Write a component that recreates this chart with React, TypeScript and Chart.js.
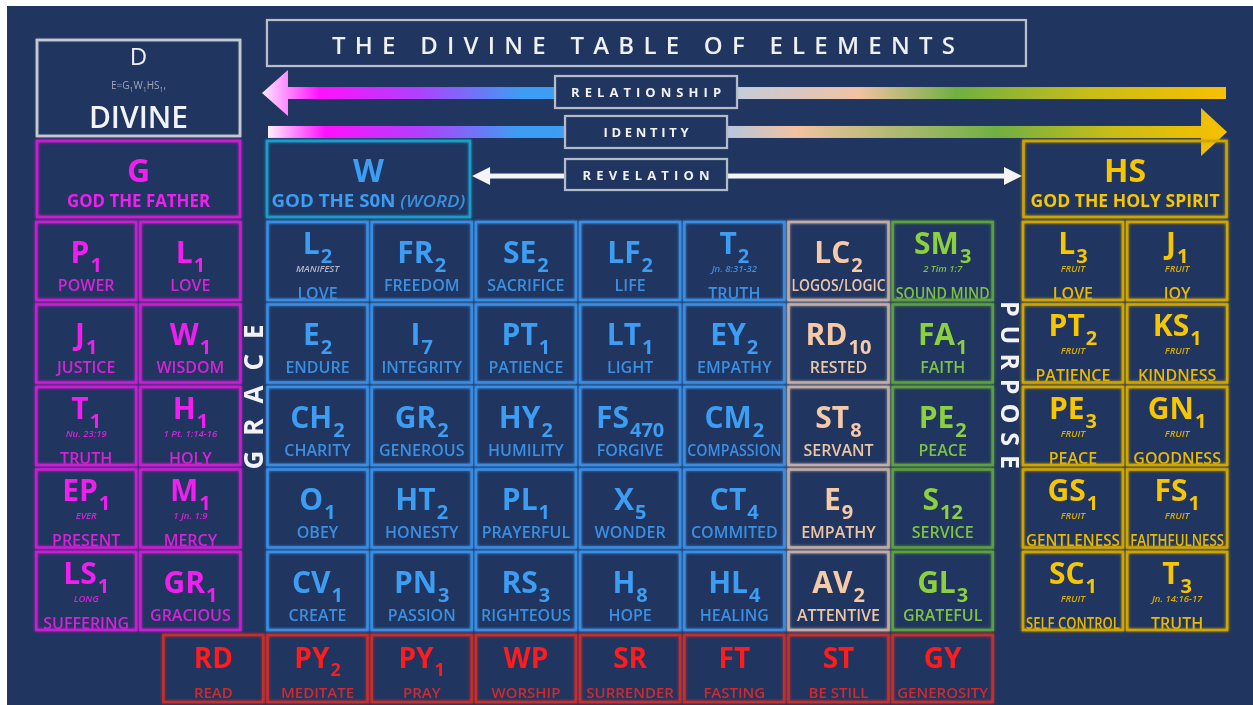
import React, { useEffect, useRef } from "react";
import { Chart, registerables } from "chart.js";

Chart.register(...registerables);

// ---------------- DATA ----------------
type Cell = [string, string, string, string]; // symbol, subscript, name, note

const TITLE = "THE DIVINE TABLE OF ELEMENTS";
const ARROW_LABELS = ["RELATIONSHIP", "IDENTITY", "REVELATION"];
const SIDE_LABELS = ["GRACE", "PURPOSE"];
const DIVINE_SYMBOL = "D";
const DIVINE_NAME = "DIVINE";
const DIVINE_FORMULA: [string, string][] = [["E=G", "1"], ["W", "1"], ["HS", "1"], [",", ""]];
const HEADER_SYMBOLS = ["G", "W", "HS"];
const HEADER_NAMES = ["GOD THE FATHER", "GOD THE S0N ", "GOD THE HOLY SPIRIT"];
const HEADER_SUFFIX = ["", "(WORD)", ""];

const gridRows = [1, 2, 3, 4, 5];
const redRows = [5.94];

const magentaCols = [-2.22, -1.22];
const magentaCells: Cell[] = [
  ["P", "1", "POWER", ""], ["L", "1", "LOVE", ""],
  ["J", "1", "JUSTICE", ""], ["W", "1", "WISDOM", ""],
  ["T", "1", "TRUTH", "Nu. 23:19"], ["H", "1", "HOLY", "1 Pt. 1:14-16"],
  ["EP", "1", "PRESENT", "EVER"], ["M", "1", "MERCY", "1 Jn. 1:9"],
  ["LS", "1", "SUFFERING", "LONG"], ["GR", "1", "GRACIOUS", ""],
];

const blueCols = [0, 1, 2, 3, 4];
const blueCells: Cell[] = [
  ["L", "2", "LOVE", "MANIFEST"], ["FR", "2", "FREEDOM", ""], ["SE", "2", "SACRIFICE", ""], ["LF", "2", "LIFE", ""], ["T", "2", "TRUTH", "Jn. 8:31-32"],
  ["E", "2", "ENDURE", ""], ["I", "7", "INTEGRITY", ""], ["PT", "1", "PATIENCE", ""], ["LT", "1", "LIGHT", ""], ["EY", "2", "EMPATHY", ""],
  ["CH", "2", "CHARITY", ""], ["GR", "2", "GENEROUS", ""], ["HY", "2", "HUMILITY", ""], ["FS", "470", "FORGIVE", ""], ["CM", "2", "COMPASSION", ""],
  ["O", "1", "OBEY", ""], ["HT", "2", "HONESTY", ""], ["PL", "1", "PRAYERFUL", ""], ["X", "5", "WONDER", ""], ["CT", "4", "COMMITED", ""],
  ["CV", "1", "CREATE", ""], ["PN", "3", "PASSION", ""], ["RS", "3", "RIGHTEOUS", ""], ["H", "8", "HOPE", ""], ["HL", "4", "HEALING", ""],
];

const tanCols = [5];
const tanCells: Cell[] = [
  ["LC", "2", "LOGOS/LOGIC", ""],
  ["RD", "10", "RESTED", ""],
  ["ST", "8", "SERVANT", ""],
  ["E", "9", "EMPATHY", ""],
  ["AV", "2", "ATTENTIVE", ""],
];

const greenCols = [6];
const greenCells: Cell[] = [
  ["SM", "3", "SOUND MIND", "2 Tim 1:7"],
  ["FA", "1", "FAITH", ""],
  ["PE", "2", "PEACE", ""],
  ["S", "12", "SERVICE", ""],
  ["GL", "3", "GRATEFUL", ""],
];

const yellowCols = [7.25, 8.25];
const yellowCells: Cell[] = [
  ["L", "3", "LOVE", "FRUIT"], ["J", "1", "JOY", "FRUIT"],
  ["PT", "2", "PATIENCE", "FRUIT"], ["KS", "1", "KINDNESS", "FRUIT"],
  ["PE", "3", "PEACE", "FRUIT"], ["GN", "1", "GOODNESS", "FRUIT"],
  ["GS", "1", "GENTLENESS", "FRUIT"], ["FS", "1", "FAITHFULNESS", "FRUIT"],
  ["SC", "1", "SELF CONTROL", "FRUIT"], ["T", "3", "TRUTH", "Jn. 14:16-17"],
];

const redCols = [-1, 0, 1, 2, 3, 4, 5, 6];
const redCells: Cell[] = [
  ["RD", "", "READ", ""], ["PY", "2", "MEDITATE", ""], ["PY", "1", "PRAY", ""], ["WP", "", "WORSHIP", ""],
  ["SR", "", "SURRENDER", ""], ["FT", "", "FASTING", ""], ["ST", "", "BE STILL", ""], ["GY", "", "GENEROSITY", ""],
];

// ---------------- LAYOUT / STYLE ----------------
const X_MIN = -2.98, X_MAX = 8.978;
const Y_MIN = -2.091, Y_MAX = 6.382;
const BG = "#203560";

type Theme = { symbol: string; name: string; note: string; border: string };
const THEMES: Record<string, Theme> = {
  magenta: { symbol: "#f01ff0", name: "#d822d8", note: "#d822d8", border: "#c81ed0" },
  blue: { symbol: "#3c9df2", name: "#3b8fe2", note: "#3b8fe2", border: "#3a8de0" },
  cyan: { symbol: "#3c9df2", name: "#3b8fe2", note: "#3b8fe2", border: "#1c9cc8" },
  tan: { symbol: "#f6caa6", name: "#ecc6a6", note: "#ecc6a6", border: "#c2ada6" },
  green: { symbol: "#8dd03e", name: "#7fc242", note: "#7fc242", border: "#5e9f3e" },
  yellow: { symbol: "#f7c600", name: "#e9b900", note: "#d8ac00", border: "#cfa500" },
  red: { symbol: "#ff1c1c", name: "#d22a2a", note: "#d22a2a", border: "#c4302e" },
};

const GROUPS = [
  { cells: magentaCells, cols: magentaCols, rows: gridRows, theme: "magenta", h: 78 },
  { cells: blueCells, cols: blueCols, rows: gridRows, theme: "blue", h: 78 },
  { cells: tanCells, cols: tanCols, rows: gridRows, theme: "tan", h: 78 },
  { cells: greenCells, cols: greenCols, rows: gridRows, theme: "green", h: 78 },
  { cells: yellowCells, cols: yellowCols, rows: gridRows, theme: "yellow", h: 78 },
  { cells: redCells, cols: redCols, rows: redRows, theme: "red", h: 67 },
];

const HEADER_POS = [
  { x: -1.718, y: 0.006, theme: "magenta", tw: 143 },
  { x: 0.489, y: 0.006, theme: "cyan", tw: 194 },
  { x: 7.75, y: 0.006, theme: "yellow", tw: 189 },
];

const FONT = '"Open Sans", "DejaVu Sans", sans-serif';

function drawSymbol(ctx: CanvasRenderingContext2D, sym: string, sub: string, cx: number, base: number, color: string, size: number) {
  const subSize = Math.round(size * 0.66);
  ctx.font = `700 ${size}px ${FONT}`;
  const w1 = ctx.measureText(sym).width;
  ctx.font = `700 ${subSize}px ${FONT}`;
  const w2 = sub ? ctx.measureText(sub).width : 0;
  const total = w1 + (sub ? w2 + 1 : 0);
  const x = cx - total / 2;
  ctx.textAlign = "left";
  ctx.textBaseline = "alphabetic";
  ctx.fillStyle = color;
  ctx.font = `700 ${size}px ${FONT}`;
  ctx.fillText(sym, x, base);
  if (sub) {
    ctx.font = `700 ${subSize}px ${FONT}`;
    ctx.fillText(sub, x + w1 + 1, base + size * 0.3);
  }
}

function spaced(ctx: CanvasRenderingContext2D, text: string, cx: number, y: number, width: number) {
  const chars = [...text];
  const ws = chars.map((c) => ctx.measureText(c).width);
  const natural = ws.reduce((a, b) => a + b, 0);
  const gap = chars.length > 1 ? (width - natural) / (chars.length - 1) : 0;
  let x = cx - width / 2;
  ctx.textAlign = "left";
  chars.forEach((c, i) => {
    ctx.fillText(c, x, y);
    x += ws[i] + gap;
  });
}

function box(ctx: CanvasRenderingContext2D, cx: number, cy: number, w: number, h: number, color: string, lw = 2.5, glow = 3) {
  ctx.save();
  ctx.strokeStyle = color;
  ctx.lineWidth = lw;
  ctx.shadowColor = color;
  ctx.shadowBlur = glow;
  ctx.strokeRect(cx - w / 2, cy - h / 2, w, h);
  ctx.restore();
}

function drawCell(ctx: CanvasRenderingContext2D, cx: number, cy: number, h: number, cell: Cell, th: Theme, isRed: boolean) {
  const [sym, sub, name, note] = cell;
  const w = 100;
  const left = cx - w / 2, top = cy - h / 2;
  ctx.save();
  ctx.beginPath();
  ctx.rect(left, top, w, h);
  ctx.clip();
  let symBase: number, nameBase: number;
  if (isRed) { symBase = top + 33; nameBase = top + 63; }
  else if (note) { symBase = top + 32; nameBase = top + 77; }
  else { symBase = top + 41; nameBase = top + 69; }
  drawSymbol(ctx, sym, sub, cx, symBase, th.symbol, isRed ? 28 : 30);
  ctx.textAlign = "center";
  if (note) {
    ctx.font = `italic 600 9.5px ${FONT}`;
    ctx.fillStyle = note === "MANIFEST" ? "#b4b6c2" : th.note;
    ctx.fillText(note, cx, top + 50, w - 10);
  }
  ctx.font = `600 ${isRed ? 15 : 16}px ${FONT}`;
  ctx.fillStyle = th.name;
  ctx.fillText(name, cx, nameBase, w - 6);
  ctx.restore();
  box(ctx, cx, cy, w, h, th.border);
}

function makeGradient(ctx: CanvasRenderingContext2D, x0: number, x1: number, stops: [number, string][]) {
  const g = ctx.createLinearGradient(x0, 0, x1, 0);
  stops.forEach(([o, c]) => g.addColorStop(o, c));
  return g;
}

const tablePlugin = {
  id: "divineTable",
  beforeDraw(chart: any) {
    const { ctx, width, height } = chart;
    ctx.save();
    ctx.fillStyle = BG;
    ctx.fillRect(0, 0, width, height);
    ctx.restore();
  },
  afterDatasetsDraw(chart: any) {
    const ctx: CanvasRenderingContext2D = chart.ctx;
    const xs = chart.scales.x, ys = chart.scales.y;
    const X = (v: number) => xs.getPixelForValue(v);
    const Y = (v: number) => ys.getPixelForValue(v);
    ctx.save();
    ctx.textBaseline = "alphabetic";

    // Title
    const tcx = X(3.157), tcy = Y(-1.642);
    box(ctx, tcx, tcy, 759, 46, "#b9c0cc", 2, 1);
    ctx.fillStyle = "#eef0f4";
    ctx.font = `600 24px ${FONT}`;
    spaced(ctx, TITLE, tcx - 3, tcy + 11, 623);

    // Relationship arrow (points left)
    {
      const tip = X(-0.533), end = X(8.719), y = Y(-1.036);
      const g = makeGradient(ctx, tip, end, [
        [0, "#ffe8ff"], [0.06, "#ff10ff"], [0.16, "#b040ff"], [0.27, "#3d9df2"], [0.31, "#3d9df2"],
        [0.5, "#c8ccd8"], [0.62, "#f2c2a2"], [0.72, "#6fb042"], [0.86, "#c9bd18"], [1, "#f8c000"],
      ]);
      ctx.fillStyle = g;
      ctx.fillRect(tip + 24, y - 6, end - tip - 24, 12);
      ctx.beginPath();
      ctx.moveTo(tip, y);
      ctx.lineTo(tip + 26, y - 23);
      ctx.lineTo(tip + 26, y + 23);
      ctx.closePath();
      ctx.fill();
    }
    // Identity arrow (points right)
    {
      const start = X(-0.475), tip = X(8.729), y = Y(-0.564);
      const g = makeGradient(ctx, start, tip, [
        [0, "#fff0ff"], [0.06, "#ff10ff"], [0.16, "#b040ff"], [0.26, "#3d9df2"], [0.3, "#3d9df2"],
        [0.48, "#b8c6dc"], [0.55, "#f2c2a2"], [0.76, "#6fb042"], [0.88, "#c9bd18"], [1, "#f8c000"],
      ]);
      ctx.fillStyle = g;
      ctx.fillRect(start, y - 6, tip - start - 24, 12);
      ctx.beginPath();
      ctx.moveTo(tip, y);
      ctx.lineTo(tip - 26, y - 24);
      ctx.lineTo(tip - 26, y + 24);
      ctx.closePath();
      ctx.fill();
    }
    // Revelation double arrow
    {
      const a = X(1.483), b = X(6.761), y = Y(-0.03);
      ctx.fillStyle = "#f4f4f6";
      ctx.fillRect(a + 16, y - 2.5, b - a - 32, 5);
      ctx.beginPath();
      ctx.moveTo(a, y); ctx.lineTo(a + 18, y - 9); ctx.lineTo(a + 18, y + 9); ctx.closePath(); ctx.fill();
      ctx.beginPath();
      ctx.moveTo(b, y); ctx.lineTo(b - 18, y - 9); ctx.lineTo(b - 18, y + 9); ctx.closePath(); ctx.fill();
    }
    // Arrow labels
    const labelBoxes = [
      { x: 3.153, y: -1.048, w: 182, h: 32, tw: 150 },
      { x: 3.153, y: -0.564, w: 162, h: 32, tw: 85 },
      { x: 3.153, y: -0.048, w: 162, h: 31, tw: 127 },
    ];
    ARROW_LABELS.forEach((lab, i) => {
      const lb = labelBoxes[i];
      const cx = X(lb.x), cy = Y(lb.y);
      ctx.fillStyle = BG;
      ctx.fillRect(cx - lb.w / 2, cy - lb.h / 2, lb.w, lb.h);
      box(ctx, cx, cy, lb.w, lb.h, "#b4bcc8", 2, 1);
      ctx.fillStyle = "#f2f2f4";
      ctx.font = `700 13px ${FONT}`;
      spaced(ctx, lab, cx, cy + 5, lb.tw);
    });

    // Side labels
    ctx.fillStyle = "#f2f2f4";
    ctx.save();
    ctx.translate(X(-0.59), Y(2.648));
    ctx.rotate(-Math.PI / 2);
    ctx.font = `700 26px ${FONT}`;
    ctx.textBaseline = "middle";
    spaced(ctx, SIDE_LABELS[0], 0, 0, 145);
    ctx.restore();
    ctx.save();
    ctx.translate(X(6.627), Y(2.503));
    ctx.rotate(Math.PI / 2);
    ctx.font = `700 25px ${FONT}`;
    ctx.textBaseline = "middle";
    spaced(ctx, SIDE_LABELS[1], 0, 0, 168);
    ctx.restore();

    // Divine box
    {
      const cx = X(-1.718), cy = Y(-1.097);
      const top = cy - 48;
      box(ctx, cx, cy, 203, 96, "#c4c8d2", 2.5, 1);
      ctx.fillStyle = "#eeeff2";
      ctx.textAlign = "center";
      ctx.font = `500 24px ${FONT}`;
      ctx.fillText(DIVINE_SYMBOL, cx, top + 25);
      ctx.fillStyle = "#a3a7b8";
      const parts = DIVINE_FORMULA;
      let tot = 0;
      parts.forEach(([t, s]) => {
        ctx.font = `500 10px ${FONT}`; tot += ctx.measureText(t).width;
        ctx.font = `500 7px ${FONT}`; tot += s ? ctx.measureText(s).width : 0;
      });
      let x = cx - tot / 2;
      ctx.textAlign = "left";
      parts.forEach(([t, s]) => {
        ctx.font = `500 10px ${FONT}`; ctx.fillText(t, x, top + 49); x += ctx.measureText(t).width;
        if (s) { ctx.font = `500 7px ${FONT}`; ctx.fillText(s, x, top + 52); x += ctx.measureText(s).width; }
      });
      ctx.fillStyle = "#f2f3f5";
      ctx.textAlign = "center";
      ctx.font = `600 30px ${FONT}`;
      ctx.fillText(DIVINE_NAME, cx, top + 88);
    }

    // Header boxes
    HEADER_SYMBOLS.forEach((sym, i) => {
      const p = HEADER_POS[i];
      const th = THEMES[p.theme];
      const cx = X(p.x), cy = Y(p.y);
      const top = cy - 38;
      box(ctx, cx, cy, 203, 76, th.border);
      ctx.fillStyle = th.symbol;
      ctx.textAlign = "center";
      ctx.font = `700 32px ${FONT}`;
      ctx.fillText(sym, cx, top + 41);
      const name = HEADER_NAMES[i], suf = HEADER_SUFFIX[i];
      ctx.font = `700 17px ${FONT}`;
      const w1 = ctx.measureText(name).width;
      ctx.font = `italic 600 17px ${FONT}`;
      const w2 = suf ? ctx.measureText(suf).width : 0;
      const tot = w1 + w2;
      const sc = p.tw / tot;
      ctx.save();
      ctx.translate(cx - p.tw / 2, top + 66);
      ctx.scale(sc, 1);
      ctx.textAlign = "left";
      ctx.fillStyle = th.symbol;
      ctx.font = `700 17px ${FONT}`;
      ctx.fillText(name, 0, 0);
      if (suf) {
        ctx.font = `italic 600 17px ${FONT}`;
        ctx.fillStyle = "#3a8fd8";
        ctx.fillText(suf, w1, 0);
      }
      ctx.restore();
    });

    // Cells
    chart.data.datasets.forEach((ds: any, di: number) => {
      const meta = chart.getDatasetMeta(di);
      const grp = GROUPS[di];
      const th = THEMES[grp.theme];
      meta.data.forEach((pt: any, j: number) => {
        drawCell(ctx, pt.x, pt.y, grp.h, grp.cells[j], th, grp.theme === "red");
      });
    });
    ctx.restore();
  },
};

export default function App() {
  const ref = useRef<HTMLCanvasElement | null>(null);
  useEffect(() => {
    if (!ref.current) return;
    const datasets = GROUPS.map((g) => ({
      label: g.theme,
      data: g.cells.map((_, i) => ({
        x: g.cols[i % g.cols.length],
        y: g.rows[Math.floor(i / g.cols.length)],
      })),
      pointRadius: 0,
      pointHoverRadius: 0,
      showLine: false,
    }));
    const chart = new Chart(ref.current, {
      type: "scatter",
      data: { datasets },
      options: {
        animation: false,
        responsive: false,
        maintainAspectRatio: false,
        events: [],
        layout: { padding: 0 },
        plugins: { legend: { display: false }, tooltip: { enabled: false } },
        scales: {
          x: { type: "linear", min: X_MIN, max: X_MAX, display: false },
          y: { type: "linear", min: Y_MIN, max: Y_MAX, reverse: true, display: false },
        },
      },
      plugins: [tablePlugin],
    } as any);
    return () => chart.destroy();
  }, []);
  return (
    <div style={{ position: "absolute", left: 7, top: 6, width: 1246, height: 699 }}>
      <canvas ref={ref} width={1246} height={699} style={{ display: "block", width: 1246, height: 699 }} />
    </div>
  );
}
